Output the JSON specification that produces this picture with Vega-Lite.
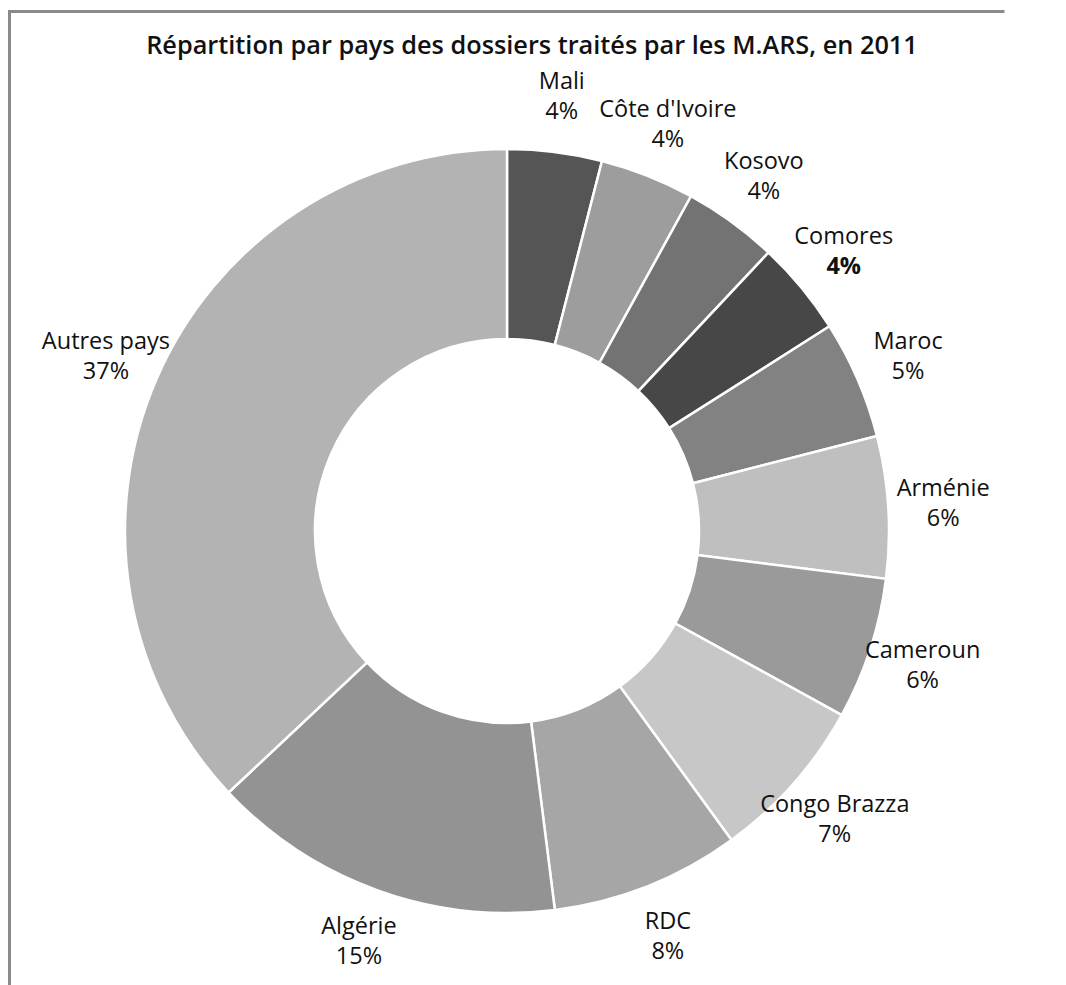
{
  "$schema": "https://vega.github.io/schema/vega-lite/v6.json",
  "width": 995,
  "height": 1039,
  "padding": {"left": 9.5, "top": 11.5, "right": 0, "bottom": 0},
  "background": "white",
  "view": {"stroke": "#8a8a8a", "strokeWidth": 3, "strokeDash": [995, 2034, 1040]},
  "title": {
    "text": "Répartition par pays des dossiers traités par les M.ARS, en 2011",
    "font": "Open Sans",
    "fontSize": 25.3,
    "fontWeight": 600,
    "color": "#111111",
    "anchor": "middle",
    "frame": "group",
    "offset": 0,
    "dx": 25,
    "dy": 68,
    "baseline": "alphabetic"
  },
  "data": {
    "values": [
      {"ordre": 1, "pays": "Mali", "part": 0.04},
      {"ordre": 2, "pays": "Côte d'Ivoire", "part": 0.04},
      {"ordre": 3, "pays": "Kosovo", "part": 0.04},
      {"ordre": 4, "pays": "Comores", "part": 0.04},
      {"ordre": 5, "pays": "Maroc", "part": 0.05},
      {"ordre": 6, "pays": "Arménie", "part": 0.06},
      {"ordre": 7, "pays": "Cameroun", "part": 0.06},
      {"ordre": 8, "pays": "Congo Brazza", "part": 0.07},
      {"ordre": 9, "pays": "RDC", "part": 0.08},
      {"ordre": 10, "pays": "Algérie", "part": 0.15},
      {"ordre": 11, "pays": "Autres pays", "part": 0.37}
    ]
  },
  "encoding": {
    "theta": {"field": "part", "type": "quantitative", "stack": true},
    "order": {"field": "ordre", "type": "quantitative"},
    "color": {
      "field": "pays",
      "type": "nominal",
      "scale": {
        "domain": ["Mali", "Côte d'Ivoire", "Kosovo", "Comores", "Maroc", "Arménie", "Cameroun", "Congo Brazza", "RDC", "Algérie", "Autres pays"],
        "range": ["#555555", "#9d9d9d", "#737373", "#474747", "#828282", "#bfbfbf", "#9a9a9a", "#c7c7c7", "#a6a6a6", "#939393", "#b3b3b3"]
      },
      "legend": null
    }
  },
  "layer": [
    {
      "mark": {"type": "arc", "outerRadius": 382, "innerRadius": 192, "stroke": "white", "strokeWidth": 2.5}
    },
    {
      "mark": {"type": "text", "radius": 437, "dy": -15, "font": "Open Sans", "fontSize": 23.5, "baseline": "middle", "align": "center"},
      "encoding": {"text": {"field": "pays", "type": "nominal"}, "color": {"value": "#111111"}}
    },
    {
      "mark": {"type": "text", "radius": 437, "dy": 15, "font": "Open Sans", "fontSize": 23.5, "baseline": "middle", "align": "center"},
      "encoding": {
        "text": {"field": "part", "type": "quantitative", "format": ".0%"},
        "color": {"value": "#111111"},
        "opacity": {"condition": {"test": "datum.pays === 'Comores'", "value": 0}, "value": 1}
      }
    },
    {
      "mark": {"type": "text", "radius": 437, "dy": 15, "font": "Open Sans", "fontSize": 23.5, "fontWeight": "bold", "baseline": "middle", "align": "center"},
      "encoding": {
        "text": {"field": "part", "type": "quantitative", "format": ".0%"},
        "color": {"value": "#111111"},
        "opacity": {"condition": {"test": "datum.pays === 'Comores'", "value": 1}, "value": 0}
      }
    }
  ]
}
